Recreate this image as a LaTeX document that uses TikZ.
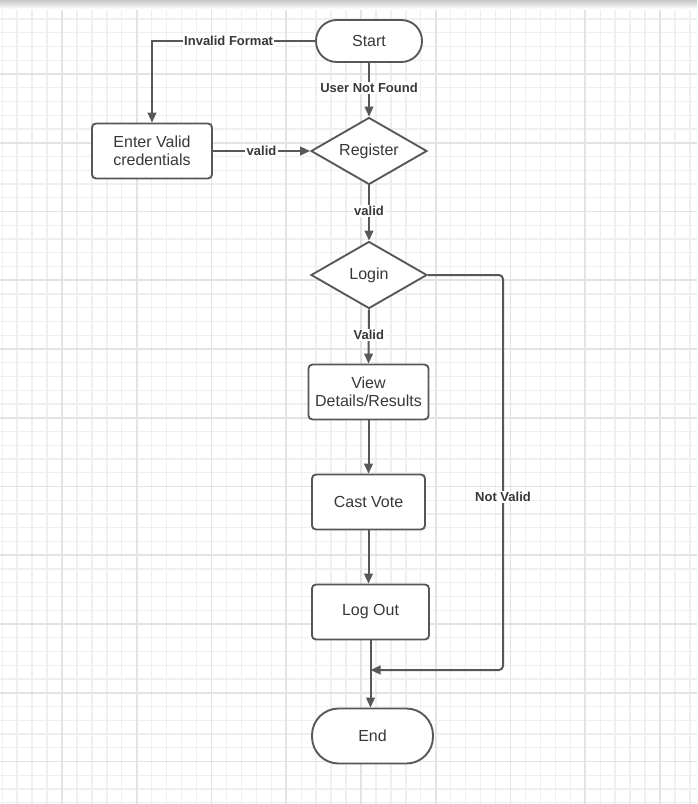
\documentclass[tikz,border=0pt]{standalone}
\usepackage{fontspec}
\setmainfont{Liberation Sans}
\usetikzlibrary{shapes.geometric,arrows.meta}
\definecolor{linec}{HTML}{575757}
\definecolor{textc}{HTML}{383838}
\definecolor{gridminor}{HTML}{EFEFEF}
\definecolor{gridmajor}{HTML}{E3E3E3}
\begin{document}
\begin{tikzpicture}[x=0.75pt,y=-0.75pt,
  box/.style={draw=linec,line width=1.4pt,fill=white,rounded corners=3pt,
    minimum height=41.25pt,inner sep=2pt,align=center,text=textc,
    font=\fontsize{12}{13.5}\selectfont},
  term/.style={draw=linec,line width=1.4pt,fill=white,rounded corners=15.5pt,
    minimum height=31.5pt,minimum width=79.5pt,text=textc,
    font=\fontsize{12}{13.5}\selectfont},
  termbig/.style={term,rounded corners=20pt,minimum height=41.25pt,minimum width=90.75pt},
  decision/.style={diamond,draw=linec,line width=1.4pt,fill=white,aspect=1.73,
    inner sep=0pt,minimum width=87pt,minimum height=50.25pt,text=textc,
    font=\fontsize{12}{13.5}\selectfont},
  conn/.style={draw=linec,line width=1.5pt,-{Triangle[length=7.5pt,width=6.5pt]}},
  lbl/.style={fill=white,inner sep=1pt,text=textc,font=\fontsize{9.75}{11}\selectfont\bfseries}]
\useasboundingbox (0,0) rectangle (697,804);
\fill[white] (0,0) rectangle (697,804);
% grid
\foreach \k in {-4,...,42}{
  \pgfmathsetmacro\xx{62+\k*14.95}
  \draw[gridminor,line width=1pt] (\xx,0) -- (\xx,804);
}
\foreach \k in {-5,...,53}{
  \pgfmathsetmacro\yy{74+\k*13.75}
  \draw[gridminor,line width=1pt] (0,\yy) -- (697,\yy);
}
\foreach \k in {0,5,...,40}{
  \pgfmathsetmacro\xx{62+\k*14.95}
  \draw[gridmajor,line width=1.2pt] (\xx,0) -- (\xx,804);
}
\foreach \k in {0,5,...,50}{
  \pgfmathsetmacro\yy{74+\k*13.75}
  \draw[gridmajor,line width=1.2pt] (0,\yy) -- (697,\yy);
}
\shade[top color=gray!45,bottom color=white] (0,0) rectangle (697,9);
% nodes
\node[term] (start) at (369,41) {Start};
\node[decision] (register) at (369,151) {Register};
\node[box,minimum width=90pt] (enter) at (152,151) {Enter Valid\\credentials};
\node[decision] (login) at (369,275) {Login};
\node[box,minimum width=90pt] (view) at (368.5,392) {View\\Details/Results};
\node[box,minimum width=84.75pt] (cast) at (368.5,502) {Cast Vote};
\node[box,minimum width=87.75pt] (logout) at (370.5,612) {Log Out};
\node[termbig] (end) at (372.5,736) {End};
\coordinate (nvc) at (503,497);
\coordinate (join) at (370.5,670);
% connectors
\draw[conn] (start.west) -| node[lbl,pos=0.265] {Invalid Format} (enter.north);
\draw[conn] (start.south) -- node[lbl,pos=0.46] {User Not Found} (register.north);
\draw[conn] (enter.east) -- node[lbl] {valid} (register.west);
\draw[conn] (register.south) -- node[lbl,pos=0.47] {valid} (login.north);
\draw[conn] (login.south) -- node[lbl,pos=0.47] {Valid} (view.north);
\draw[conn] (view.south) -- (view.south |- cast.north);
\draw[conn] (cast.south) -- (cast.south |- logout.north);
\draw[conn] (logout.south) -- (logout.south |- end.north);
\draw[conn,rounded corners=3pt] (login.east) -| (nvc) |- (join);
\node[lbl] (nvl) at (nvc) {Not Valid};
\end{tikzpicture}
\end{document}
